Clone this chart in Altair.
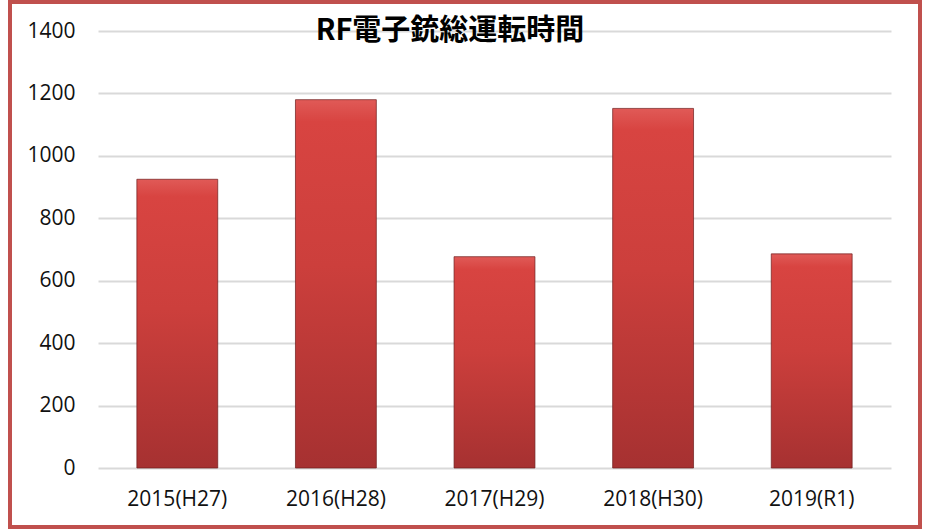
import altair as alt
import pandas as pd

TITLE = "RF電子銃総運転時間"
years = ["2015(H27)", "2016(H28)", "2017(H29)", "2018(H30)", "2019(R1)"]
hours = [925, 1180, 677, 1152, 686]
y_ticks = [0, 200, 400, 600, 800, 1000, 1200, 1400]

df = pd.DataFrame({"year": years, "hours": hours})

W, H = 793, 437
PAD_L, PAD_T = 98, 31

grad = alt.Gradient(
    gradient="linear",
    stops=[
        alt.GradientStop(color="#e05a57", offset=0),
        alt.GradientStop(color="#d84441", offset=0.06),
        alt.GradientStop(color="#cc3f3c", offset=0.45),
        alt.GradientStop(color="#a63131", offset=1),
    ],
    x1=0, x2=0, y1=0, y2=1,
)

bars = alt.Chart(df).mark_bar(
    fill=grad, stroke="#6e1c1c", strokeWidth=1, strokeOpacity=0.7
).encode(
    x=alt.X("year:N", sort=years, title=None,
            scale=alt.Scale(paddingInner=0.49, paddingOuter=0.245),
            axis=alt.Axis(labelAngle=0, domain=False, ticks=False, grid=False,
                          labelFont="Open Sans", labelFontSize=21,
                          labelColor="#111111", labelPadding=20)),
    y=alt.Y("hours:Q", title=None,
            scale=alt.Scale(domain=[0, 1400], nice=False),
            axis=alt.Axis(values=y_ticks, format="d", domain=False, ticks=False,
                          grid=True, gridColor="#d9d9d9", gridWidth=2,
                          labelFont="Open Sans", labelFontSize=21,
                          labelColor="#111111", labelPadding=23)),
)

title_df = pd.DataFrame({"t": [TITLE]})
title = alt.Chart(title_df).mark_text(
    font="Noto Sans CJK JP", fontSize=29, fontWeight="bold",
    align="center", baseline="middle", color="#000000"
).encode(text="t:N", x=alt.value(450 - PAD_L), y=alt.value(31 - PAD_T))

border = alt.Chart(title_df).mark_rect(
    fill=None, stroke="#c0504d", strokeWidth=4, clip=False
).encode(
    x=alt.value(10 - PAD_L), x2=alt.value(920 - PAD_L),
    y=alt.value(2 - PAD_T), y2=alt.value(527 - PAD_T),
)

chart = alt.layer(bars, title, border).properties(
    width=W, height=H,
    autosize=alt.AutoSizeParams(type="none"),
    padding={"left": PAD_L, "top": PAD_T, "right": 934 - PAD_L - W, "bottom": 529 - PAD_T - H},
    background="white",
).configure_view(stroke=None)

chart.save("out.html", embed_options={"renderer": "svg", "actions": False})
